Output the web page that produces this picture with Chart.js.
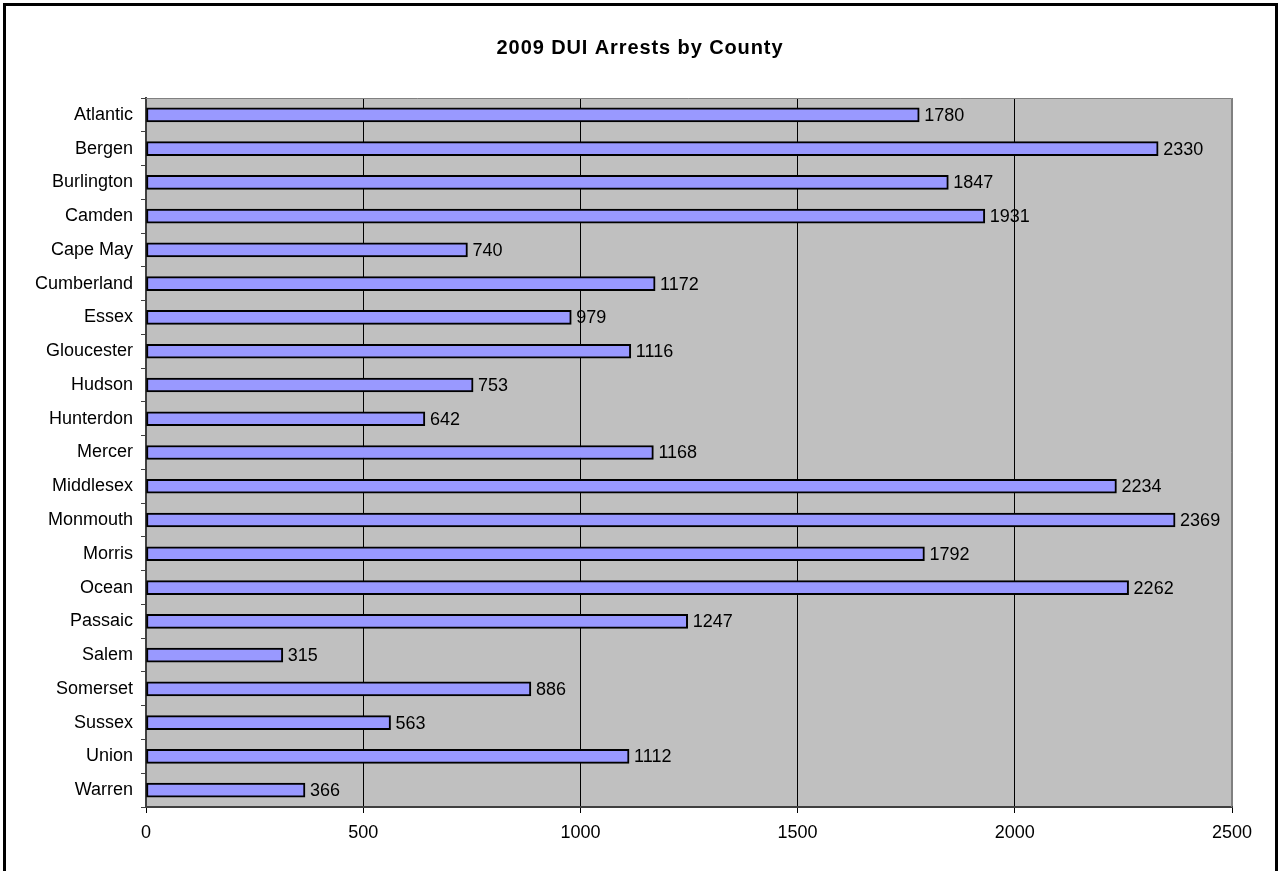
<!DOCTYPE html>
<html>
<head>
<meta charset="utf-8">
<script src="https://cdn.jsdelivr.net/npm/chart.js@4/dist/chart.umd.min.js"></script>
<style>
  html, body { margin: 0; padding: 0; background: #fff; }
  #wrap { width: 1280px; height: 871px; position: relative; }
</style>
</head>
<body>
<div id="wrap"><canvas id="duiChart" width="1280" height="871"></canvas></div>
<script>
const counties = ['Atlantic', 'Bergen', 'Burlington', 'Camden', 'Cape May', 'Cumberland', 'Essex',
  'Gloucester', 'Hudson', 'Hunterdon', 'Mercer', 'Middlesex', 'Monmouth', 'Morris', 'Ocean',
  'Passaic', 'Salem', 'Somerset', 'Sussex', 'Union', 'Warren'];
const arrests = [1780, 2330, 1847, 1931, 740, 1172, 979, 1116, 753, 642, 1168, 2234, 2369, 1792,
  2262, 1247, 315, 886, 563, 1112, 366];
const xTicks = [0, 500, 1000, 1500, 2000, 2500];
const chartTitle = '2009 DUI Arrests by County';

const FONT = "'Liberation Sans', Arial, sans-serif";

// gray plot background + frame, outer border and title
const framePlugin = {
    id: 'frame',
    beforeDraw(chart) {
        const ctx = chart.ctx;
        const a = chart.chartArea;
        ctx.save();
        ctx.fillStyle = '#fff';
        ctx.fillRect(0, 0, chart.width, chart.height);
        ctx.fillStyle = '#C0C0C0';
        ctx.fillRect(a.left, a.top, a.right - a.left, a.bottom - a.top);
        ctx.restore();
    },
    afterDraw(chart) {
        const ctx = chart.ctx;
        const a = chart.chartArea;
        ctx.save();
        // top + right edges of the plot area
        ctx.strokeStyle = '#808080';
        ctx.lineWidth = 1;
        ctx.beginPath();
        ctx.moveTo(a.left, a.top + 0.5);
        ctx.lineTo(a.right - 0.5, a.top + 0.5);
        ctx.lineTo(a.right - 0.5, a.bottom);
        ctx.stroke();
        // outer border (open at the bottom)
        ctx.strokeStyle = '#000';
        ctx.lineWidth = 3;
        ctx.beginPath();
        ctx.moveTo(4.5, chart.height + 5);
        ctx.lineTo(4.5, 4.5);
        ctx.lineTo(1276.5, 4.5);
        ctx.lineTo(1276.5, chart.height + 5);
        ctx.stroke();
        // title
        ctx.fillStyle = '#000';
        ctx.font = 'bold 20px ' + FONT;
        ctx.letterSpacing = '0.9px';
        ctx.textAlign = 'center';
        ctx.textBaseline = 'middle';
        ctx.fillText(chartTitle, 640, 48);
        ctx.restore();
    }
};

// value labels at the end of each bar
const valueLabels = {
    id: 'valueLabels',
    afterDatasetsDraw(chart) {
        const ctx = chart.ctx;
        const meta = chart.getDatasetMeta(0);
        ctx.save();
        ctx.fillStyle = '#000';
        ctx.font = '18px ' + FONT;
        ctx.textAlign = 'left';
        ctx.textBaseline = 'middle';
        meta.data.forEach((bar, i) => {
            ctx.fillText(String(arrests[i]), bar.x + 5, bar.y + 1);
        });
        ctx.restore();
    }
};

new Chart(document.getElementById('duiChart'), {
    type: 'bar',
    data: {
        labels: counties,
        datasets: [{
            data: arrests,
            backgroundColor: '#9999FF',
            borderColor: '#000',
            borderWidth: 2,
            borderSkipped: false,
            barThickness: 14
        }]
    },
    options: {
        indexAxis: 'y',
        responsive: false,
        animation: false,
        layout: { padding: { top: 98, left: 0, right: 48, bottom: 0 } },
        plugins: {
            legend: { display: false },
            title: { display: false },
            tooltip: { enabled: false }
        },
        scales: {
            x: {
                min: 0,
                max: 2500,
                afterBuildTicks(scale) { scale.ticks = xTicks.map(v => ({ value: v })); },
                afterFit(scale) { scale.height = 871 - 807; },
                grid: {
                    color: ctx => (ctx.tick && ctx.tick.value === 2500) ? '#808080' : '#000',
                    lineWidth: 1,
                    tickLength: 6,
                    tickColor: '#000'
                },
                border: { display: true, color: '#404040', width: 2 },
                ticks: {
                    color: '#000',
                    padding: 9,
                    callback: v => String(v),
                    font: { family: FONT, size: 18 }
                }
            },
            y: {
                afterFit(scale) { scale.width = 146; },
                grid: {
                    offset: true,
                    drawOnChartArea: false,
                    tickLength: 5,
                    color: '#404040'
                },
                border: { display: true, color: '#404040', width: 2 },
                ticks: {
                    color: '#000',
                    padding: 8,
                    font: { family: FONT, size: 18 }
                }
            }
        }
    },
    plugins: [framePlugin, valueLabels]
});
</script>
</body>
</html>
